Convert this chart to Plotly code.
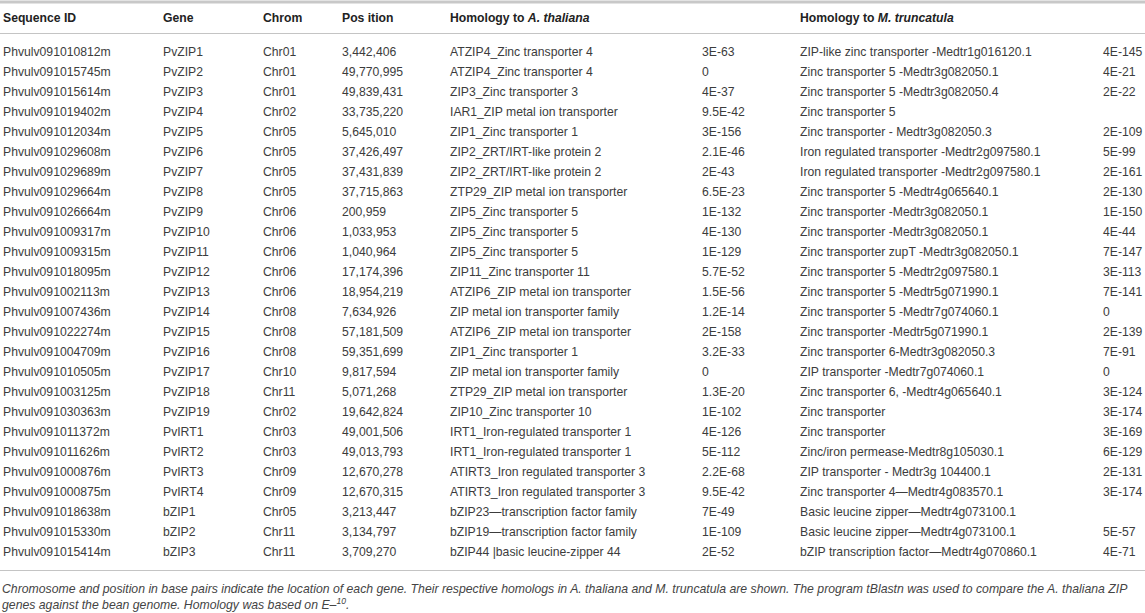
import plotly.graph_objects as go

# ---------------- data ----------------
seq_ids = ["Phvulv091010812m", "Phvulv091015745m", "Phvulv091015614m", "Phvulv091019402m",
           "Phvulv091012034m", "Phvulv091029608m", "Phvulv091029689m", "Phvulv091029664m",
           "Phvulv091026664m", "Phvulv091009317m", "Phvulv091009315m", "Phvulv091018095m",
           "Phvulv091002113m", "Phvulv091007436m", "Phvulv091022274m", "Phvulv091004709m",
           "Phvulv091010505m", "Phvulv091003125m", "Phvulv091030363m", "Phvulv091011372m",
           "Phvulv091011626m", "Phvulv091000876m", "Phvulv091000875m", "Phvulv091018638m",
           "Phvulv091015330m", "Phvulv091015414m"]
genes = ["PvZIP1", "PvZIP2", "PvZIP3", "PvZIP4", "PvZIP5", "PvZIP6", "PvZIP7", "PvZIP8",
         "PvZIP9", "PvZIP10", "PvZIP11", "PvZIP12", "PvZIP13", "PvZIP14", "PvZIP15", "PvZIP16",
         "PvZIP17", "PvZIP18", "PvZIP19", "PvIRT1", "PvIRT2", "PvIRT3", "PvIRT4",
         "bZIP1", "bZIP2", "bZIP3"]
chroms = ["Chr01", "Chr01", "Chr01", "Chr02", "Chr05", "Chr05", "Chr05", "Chr05",
          "Chr06", "Chr06", "Chr06", "Chr06", "Chr06", "Chr08", "Chr08", "Chr08",
          "Chr10", "Chr11", "Chr02", "Chr03", "Chr03", "Chr09", "Chr09",
          "Chr05", "Chr11", "Chr11"]
positions = ["3,442,406", "49,770,995", "49,839,431", "33,735,220", "5,645,010", "37,426,497",
             "37,431,839", "37,715,863", "200,959", "1,033,953", "1,040,964", "17,174,396",
             "18,954,219", "7,634,926", "57,181,509", "59,351,699", "9,817,594", "5,071,268",
             "19,642,824", "49,001,506", "49,013,793", "12,670,278", "12,670,315",
             "3,213,447", "3,134,797", "3,709,270"]
at_homology = ["ATZIP4_Zinc transporter 4", "ATZIP4_Zinc transporter 4", "ZIP3_Zinc transporter 3",
               "IAR1_ZIP metal ion transporter", "ZIP1_Zinc transporter 1",
               "ZIP2_ZRT/IRT-like protein 2", "ZIP2_ZRT/IRT-like protein 2",
               "ZTP29_ZIP metal ion transporter", "ZIP5_Zinc transporter 5",
               "ZIP5_Zinc transporter 5", "ZIP5_Zinc transporter 5", "ZIP11_Zinc transporter 11",
               "ATZIP6_ZIP metal ion transporter", "ZIP metal ion transporter family",
               "ATZIP6_ZIP metal ion transporter", "ZIP1_Zinc transporter 1",
               "ZIP metal ion transporter family", "ZTP29_ZIP metal ion transporter",
               "ZIP10_Zinc transporter 10", "IRT1_Iron-regulated transporter 1",
               "IRT1_Iron-regulated transporter 1", "ATIRT3_Iron regulated transporter 3",
               "ATIRT3_Iron regulated transporter 3", "bZIP23\u2014transcription factor family",
               "bZIP19\u2014transcription factor family", "bZIP44 |basic leucine-zipper 44"]
at_evalue = ["3E-63", "0", "4E-37", "9.5E-42", "3E-156", "2.1E-46", "2E-43", "6.5E-23",
             "1E-132", "4E-130", "1E-129", "5.7E-52", "1.5E-56", "1.2E-14", "2E-158",
             "3.2E-33", "0", "1.3E-20", "1E-102", "4E-126", "5E-112", "2.2E-68", "9.5E-42",
             "7E-49", "1E-109", "2E-52"]
mt_homology = ["ZIP-like zinc transporter -Medtr1g016120.1", "Zinc transporter 5 -Medtr3g082050.1",
               "Zinc transporter 5 -Medtr3g082050.4", "Zinc transporter 5",
               "Zinc transporter - Medtr3g082050.3", "Iron regulated transporter -Medtr2g097580.1",
               "Iron regulated transporter -Medtr2g097580.1", "Zinc transporter 5 -Medtr4g065640.1",
               "Zinc transporter -Medtr3g082050.1", "Zinc transporter -Medtr3g082050.1",
               "Zinc transporter zupT -Medtr3g082050.1", "Zinc transporter 5 -Medtr2g097580.1",
               "Zinc transporter 5 -Medtr5g071990.1", "Zinc transporter 5 -Medtr7g074060.1",
               "Zinc transporter -Medtr5g071990.1", "Zinc transporter 6-Medtr3g082050.3",
               "ZIP transporter -Medtr7g074060.1", "Zinc transporter 6, -Medtr4g065640.1",
               "Zinc transporter", "Zinc transporter", "Zinc/iron permease-Medtr8g105030.1",
               "ZIP transporter - Medtr3g 104400.1", "Zinc transporter 4\u2014Medtr4g083570.1",
               "Basic leucine zipper\u2014Medtr4g073100.1", "Basic leucine zipper\u2014Medtr4g073100.1",
               "bZIP transcription factor\u2014Medtr4g070860.1"]
mt_evalue = ["4E-145", "4E-21", "2E-22", "", "2E-109", "5E-99", "2E-161", "2E-130",
             "1E-150", "4E-44", "7E-147", "3E-113", "7E-141", "0", "2E-139", "7E-91",
             "0", "3E-124", "3E-174", "3E-169", "6E-129", "2E-131", "3E-174", "", "5E-57", "4E-71"]

headers = ["Sequence ID", "Gene", "Chrom", "Pos ition", "Homology to <i>A. thaliana</i>", "",
           "Homology to <i>M. truncatula</i>", ""]
caption_lines = [
    "Chromosome and position in base pairs indicate the location of each gene. Their respective homologs in A. thaliana and M. truncatula are shown. The program tBlastn was used to compare the A. thaliana ZIP",
    "genes against the bean genome. Homology was based on E\u2013<sup>10</sup>.",
]

# ---------------- layout constants ----------------
W, H = 1145, 613
col_x = [3, 163, 263, 342, 450, 702, 800, 1103]   # left edge of each column (px)
row0_px, row_pitch = 52.7, 20.0                   # first row centre, row pitch (px)
header_px = 18
top_line_px, head_line_px, bottom_line_px = 2, 33.5, 570.5
caption_px = [589, 604]
text_col = "#3c3c3c"
head_col = "#222222"
line_col = "#c4c4c4"
FONT = "Liberation Sans, Arial, Helvetica, sans-serif"

columns = [seq_ids, genes, chroms, positions, at_homology, at_evalue, mt_homology, mt_evalue]

fig = go.Figure()
for cx, col in zip(col_x, columns):
    idx = [i for i, v in enumerate(col) if v != ""]
    fig.add_trace(go.Scatter(
        x=[cx] * len(idx), y=idx, mode="text", text=[col[i] for i in idx],
        textposition="middle right",
        textfont=dict(family=FONT, size=12.2, color=text_col),
        hoverinfo="skip", showlegend=False, cliponaxis=False,
    ))

def py(px):
    return 1 - px / H

annotations = []
for cx, h in zip(col_x, headers):
    if h:
        annotations.append(dict(
            x=(cx - 2) / W, y=py(header_px), xref="paper", yref="paper",
            xanchor="left", yanchor="middle", showarrow=False,
            text="<b>" + h + "</b>",
            font=dict(family=FONT, size=12.2, color=head_col),
        ))
for cp, line in zip(caption_px, caption_lines):
    annotations.append(dict(
        x=0, y=py(cp), xref="paper", yref="paper",
        xanchor="left", yanchor="middle", showarrow=False,
        text="<i>" + line + "</i>",
        font=dict(family=FONT, size=12.25, color="#444444"),
    ))

shapes = [
    dict(type="line", xref="paper", yref="paper", x0=0, x1=1, y0=py(top_line_px), y1=py(top_line_px),
         line=dict(color="#c8c8c8", width=3)),
    dict(type="line", xref="paper", yref="paper", x0=0, x1=1, y0=py(head_line_px), y1=py(head_line_px),
         line=dict(color=line_col, width=1.2)),
    dict(type="line", xref="paper", yref="paper", x0=0, x1=1, y0=py(bottom_line_px), y1=py(bottom_line_px),
         line=dict(color=line_col, width=1.2)),
]

fig.update_layout(
    width=W, height=H,
    margin=dict(l=0, r=0, t=0, b=0),
    paper_bgcolor="white", plot_bgcolor="white",
    xaxis=dict(range=[0, W], visible=False, fixedrange=True),
    yaxis=dict(range=[(H - row0_px) / row_pitch, -row0_px / row_pitch],
               visible=False, fixedrange=True),
    annotations=annotations, shapes=shapes,
)

fig.write_html("out.html",
               config={"displayModeBar": False, "staticPlot": True},
               post_script="document.body.style.margin='0';document.body.style.overflow='hidden';")
